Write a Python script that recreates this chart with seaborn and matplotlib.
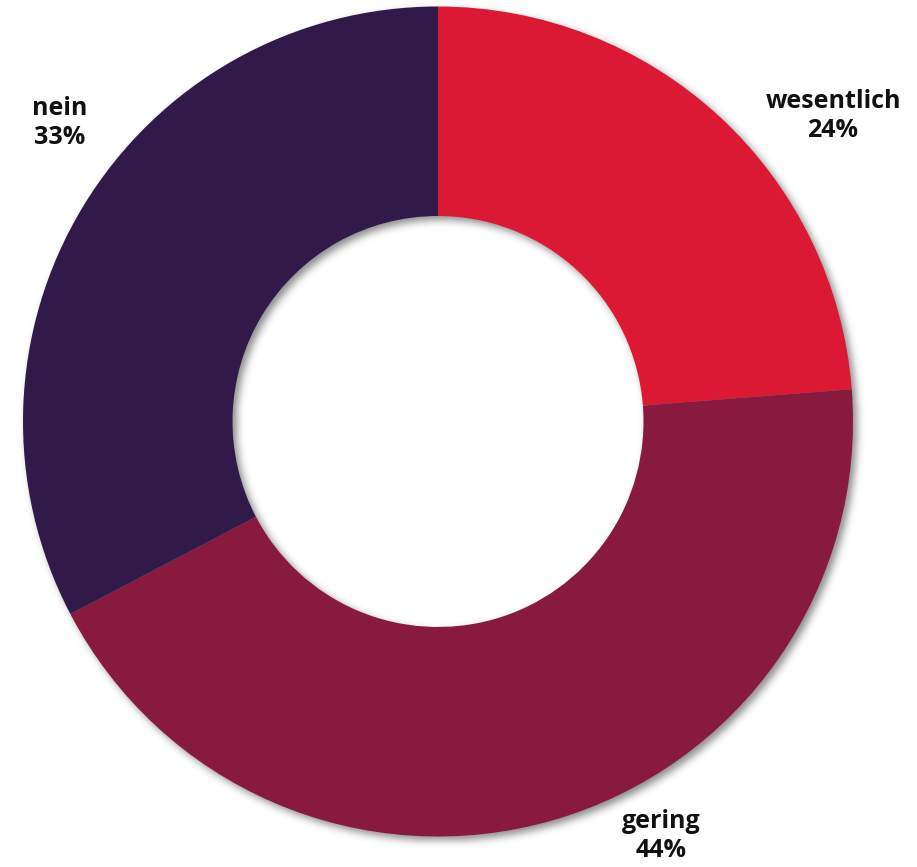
import numpy as np
import matplotlib
matplotlib.use("Agg")
import matplotlib.pyplot as plt
import seaborn as sns

# Survey shares (percent, as published)
categories = ["wesentlich", "gering", "nein"]
shares = [24, 44, 33]
colors = ["#DC1934", "#871A3E", "#311A49"]

# Label anchor points in pixel space (x, y from top)
label_xy = [(833, 116), (661, 836), (60, 123)]

W, H = 917, 867
sns.set_theme(style="white")
plt.rcParams["font.family"] = ["Open Sans", "DejaVu Sans"]

fig = plt.figure(figsize=(W / 100, H / 100), dpi=100)
ax = fig.add_axes([0, 0, 1, 1])
ax.set_xlim(0, W)
ax.set_ylim(0, H)
ax.set_aspect("equal")
ax.axis("off")

cx, cy = 438.0, 421.5          # ring centre (pixels, y from top)
r_out, r_in = 415.0, 205.5

# Soft drop shadow behind the ring, offset toward the lower right
off = 4.0
yy, xx = np.mgrid[0:H, 0:W] + 0.5
d = np.hypot(xx - (cx + off), yy - (cy + off))
mask = ((d <= r_out) & (d >= r_in)).astype(float)
sigma = 4.0
k = np.arange(-12, 13)
kern = np.exp(-0.5 * (k / sigma) ** 2)
kern /= kern.sum()
blur = np.apply_along_axis(lambda v: np.convolve(v, kern, mode="same"), 1, mask)
blur = np.apply_along_axis(lambda v: np.convolve(v, kern, mode="same"), 0, blur)
shadow = np.zeros((H, W, 4))
shadow[..., 3] = 0.45 * blur
ax.imshow(shadow, extent=(0, W, 0, H), origin="upper", zorder=0, interpolation="bilinear")

ax.pie(
    shares,
    colors=colors,
    startangle=90,
    counterclock=False,
    radius=r_out,
    center=(cx, H - cy),
    wedgeprops=dict(width=r_out - r_in, linewidth=0, antialiased=True),
    frame=True,
)
ax.set_xlim(0, W)
ax.set_ylim(0, H)
ax.axis("off")

for name, val, (lx, ly) in zip(categories, shares, label_xy):
    ax.text(lx, H - ly, f"{name}\n{val}%", ha="center", va="center",
            fontsize=18, fontweight="bold", color="#111111", linespacing=1.2,
            zorder=5)

fig.savefig("out.png", dpi=100)
